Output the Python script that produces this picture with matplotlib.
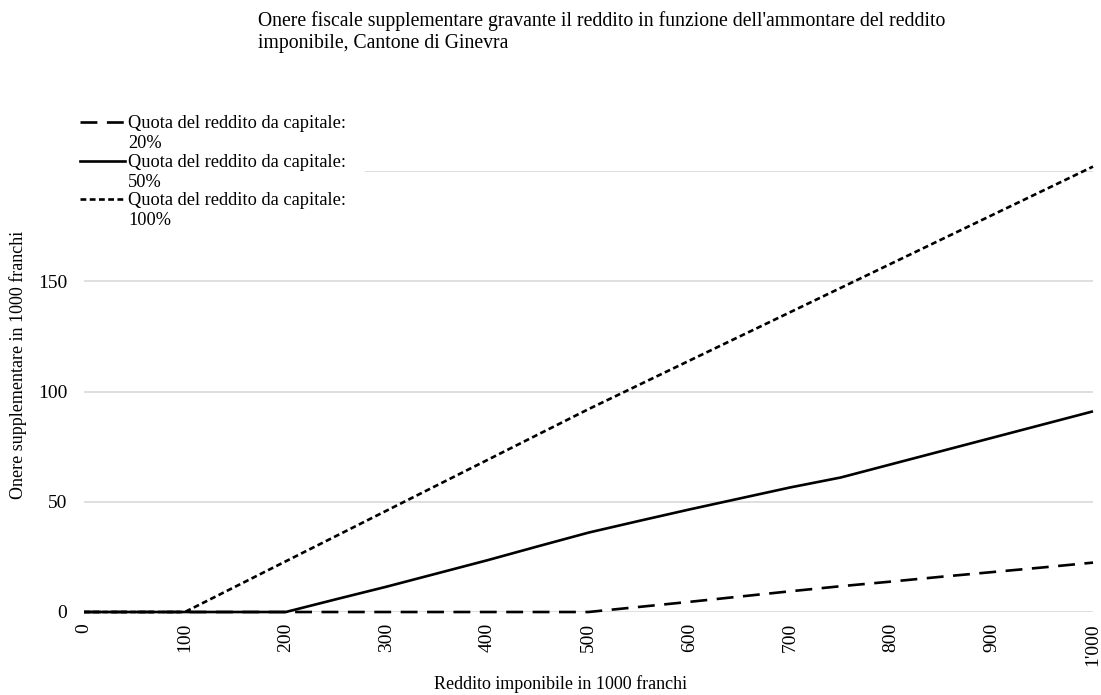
import matplotlib
matplotlib.use("Agg")
import matplotlib.pyplot as plt
from matplotlib.lines import Line2D
from matplotlib.patches import Rectangle

plt.rcParams['font.family'] = ['Liberation Serif', 'DejaVu Serif']

# ---- data -------------------------------------------------------------
income = [0, 50, 100, 150, 200, 250, 300, 350, 400, 450, 500,
          550, 600, 650, 700, 750, 800, 850, 900, 950, 1000]
share20 = [0, 0, 0, 0, 0, 0, 0, 0, 0, 0, 0,
           2.3, 4.6, 7.0, 9.4, 11.7, 13.8, 16.0, 18.1, 20.2, 22.4]
share50 = [0, 0, 0, 0, 0, 5.8, 11.5, 17.5, 23.5, 29.8, 36.0,
           41.3, 46.5, 51.5, 56.5, 61.0, 67.0, 73.0, 79.0, 85.0, 91.0]
share100 = [0, 0, 0, 11.5, 23.0, 34.5, 46.0, 57.5, 69.0, 80.5, 92.0,
            103.0, 114.0, 125.0, 136.0, 147.0, 158.0, 169.0, 180.0, 191.0, 202.0]

series_labels = ["Quota del reddito da capitale:\n20%",
                 "Quota del reddito da capitale:\n50%",
                 "Quota del reddito da capitale:\n100%"]
xticks = [0, 100, 200, 300, 400, 500, 600, 700, 800, 900, 1000]
xtick_labels = ["0", "100", "200", "300", "400", "500", "600", "700", "800", "900", "1'000"]
yticks = [0, 50, 100, 150, 200]
ytick_labels = ["0", "50", "100", "150", ""]

title = ("Onere fiscale supplementare gravante il reddito in funzione dell'ammontare del reddito\n"
         "imponibile, Cantone di Ginevra")
xlabel = "Reddito imponibile in 1000 franchi"
ylabel = "Onere supplementare in 1000 franchi"

# ---- figure -----------------------------------------------------------
W, H = 1101, 695
fig = plt.figure(figsize=(W / 100, H / 100), dpi=100)
ax = fig.add_axes([84 / W, 1 - 612 / H, (1093 - 84) / W, (612 - 171) / H])

lw = 1.9
styles = [
    dict(color='black', lw=lw, linestyle=(0, (6.4, 3.6))),
    dict(color='black', lw=lw, linestyle='-'),
    dict(color='black', lw=lw, linestyle=(0, (2.2, 1.3))),
]
zorders = [3, 5, 4]
for ys, st, z in zip([share20, share50, share100], styles, zorders):
    ax.plot(income, ys, solid_capstyle='butt', dash_capstyle='butt', zorder=z,
            clip_on=False, **st)

ax.set_xlim(0, 1000)
ax.set_ylim(0, 200)
ax.set_xticks(xticks)
ax.set_xticklabels(xtick_labels, rotation=90, fontsize=14)
ax.set_yticks(yticks)
ax.set_yticklabels(ytick_labels, fontsize=14)
ax.tick_params(axis='both', length=0)
ax.tick_params(axis='y', pad=12)
ax.tick_params(axis='x', pad=8)
ax.grid(axis='y', color='#d9d9d9', lw=1.2, zorder=0)
ax.set_axisbelow(True)
for s in ax.spines.values():
    s.set_visible(False)

# titles & labels
fig.text(258 / W, 1 - 11 / H, title, ha='left', va='top', fontsize=14.2, linespacing=1.25)
fig.text(18 / W, 1 - 365 / H, ylabel, rotation=90, ha='center', va='center', fontsize=13)
fig.text(560 / W, 1 - 684 / H, xlabel, ha='center', va='center', fontsize=13)

# legend (manual, handles aligned with first text line)
fig.add_artist(Rectangle((75 / W, 1 - 232 / H), (365 - 75) / W, (232 - 106) / H,
                         transform=fig.transFigure, facecolor='white', edgecolor='none', zorder=2))
first_line_y = [122, 161, 199]
for lab, st, yy in zip(series_labels, styles, first_line_y):
    fig.add_artist(Line2D([80 / W, 125 / W], [1 - yy / H, 1 - yy / H], transform=fig.transFigure,
                          dash_capstyle='butt', zorder=3, **st))
    fig.text(128 / W, 1 - (yy - 7) / H, lab, ha='left', va='top', fontsize=13.2,
             linespacing=1.25, zorder=4)

fig.savefig("out.png", dpi=100, facecolor='white')
